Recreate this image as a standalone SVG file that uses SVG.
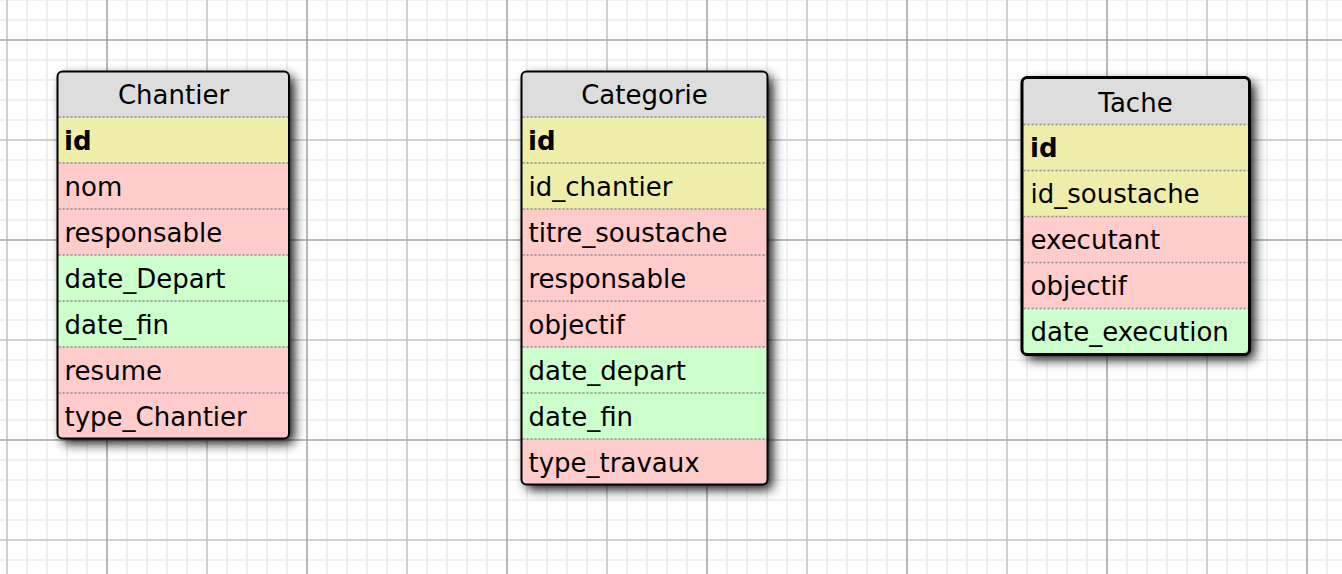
<svg xmlns="http://www.w3.org/2000/svg" width="1342" height="574" viewBox="0 0 1342 574">
  <style>
    .hdr { fill: #dddddd; }
    .num { fill: #eeeeaa; }
    .chr { fill: #ffcccc; }
    .dat { fill: #ccffcc; }
    .sep { stroke: #888888; stroke-width: 1.6; stroke-dasharray: 2 2; fill: none; }
    .frame { fill: none; stroke: #000000; stroke-width: 2; }
    .frame.sel { stroke-width: 3; }
    text { font-family: "DejaVu Sans", "Liberation Sans", sans-serif; font-size: 26px; fill: #000000; }
    .title { text-anchor: middle; }
    .pk { font-weight: bold; }
  </style>
  <defs>
    <pattern id="minor" patternUnits="userSpaceOnUse" x="-3" y="-10" width="20" height="20">
      <path d="M10 0V20M0 10H20" stroke="#ececec" stroke-width="1.6" fill="none"/>
    </pattern>
    <pattern id="major" patternUnits="userSpaceOnUse" x="57" y="-10" width="200" height="200">
      <path d="M150 0V200M0 150H200" stroke="#c8c8c8" stroke-width="1.6" fill="none"/>
      <path d="M50 0V200M0 50H200" stroke="#aaaaaa" stroke-width="1.6" fill="none"/>
    </pattern>
    <filter id="shadow" x="-30%" y="-30%" width="160%" height="160%">
      <feGaussianBlur in="SourceAlpha" stdDeviation="6"/>
      <feOffset dx="5" dy="5" result="b"/>
      <feComponentTransfer in="b" result="s"><feFuncA type="linear" slope="0.95"/></feComponentTransfer>
      <feMerge><feMergeNode in="s"/><feMergeNode in="SourceGraphic"/></feMerge>
    </filter>
    <clipPath id="clipChantier"><rect x="57.5" y="71.5" width="231.5" height="367" rx="5"/></clipPath>
    <clipPath id="clipCategorie"><rect x="521.5" y="71.5" width="246" height="413" rx="5"/></clipPath>
    <clipPath id="clipTache"><rect x="1022" y="77.5" width="227.5" height="277" rx="5"/></clipPath>
  </defs>

  <rect x="0" y="0" width="1342" height="574" fill="#ffffff"/>
  <rect x="0" y="0" width="1342" height="574" fill="url(#minor)"/>
  <rect x="0" y="0" width="1342" height="574" fill="url(#major)"/>

  <g id="connectors"></g>

  <g id="table-Chantier">
    <rect x="57.5" y="71.5" width="231.5" height="367" rx="5" fill="#ffffff" filter="url(#shadow)"/>
    <g clip-path="url(#clipChantier)">
      <rect class="hdr" x="56" y="70" width="235" height="47"/>
      <rect class="num" x="56" y="117" width="235" height="46"/>
      <rect class="chr" x="56" y="163" width="235" height="46"/>
      <rect class="chr" x="56" y="209" width="235" height="46"/>
      <rect class="dat" x="56" y="255" width="235" height="46"/>
      <rect class="dat" x="56" y="301" width="235" height="46"/>
      <rect class="chr" x="56" y="347" width="235" height="46"/>
      <rect class="chr" x="56" y="393" width="235" height="47"/>
    </g>
    <path class="sep" d="M58.5 117H288M58.5 163H288M58.5 209H288M58.5 255H288M58.5 301H288M58.5 347H288M58.5 393H288"/>
    <rect class="frame" x="57.5" y="71.5" width="231.5" height="367" rx="5"/>
    <text class="title" x="173.5" y="104">Chantier</text>
    <text class="pk" x="64" y="149.5">id</text>
    <text x="64.5" y="195.5">nom</text>
    <text x="64.5" y="241.5">responsable</text>
    <text x="64.5" y="287.5">date_Depart</text>
    <text x="64.5" y="333.5">date_fin</text>
    <text x="64.5" y="379.5">resume</text>
    <text x="64.5" y="425.5">type_Chantier</text>
  </g>

  <g id="table-Categorie">
    <rect x="521.5" y="71.5" width="246" height="413" rx="5" fill="#ffffff" filter="url(#shadow)"/>
    <g clip-path="url(#clipCategorie)">
      <rect class="hdr" x="520" y="70" width="250" height="47"/>
      <rect class="num" x="520" y="117" width="250" height="46"/>
      <rect class="num" x="520" y="163" width="250" height="46"/>
      <rect class="chr" x="520" y="209" width="250" height="46"/>
      <rect class="chr" x="520" y="255" width="250" height="46"/>
      <rect class="chr" x="520" y="301" width="250" height="46"/>
      <rect class="dat" x="520" y="347" width="250" height="46"/>
      <rect class="dat" x="520" y="393" width="250" height="46"/>
      <rect class="chr" x="520" y="439" width="250" height="47"/>
    </g>
    <path class="sep" d="M522.5 117H767M522.5 163H767M522.5 209H767M522.5 255H767M522.5 301H767M522.5 347H767M522.5 393H767M522.5 439H767"/>
    <rect class="frame" x="521.5" y="71.5" width="246" height="413" rx="5"/>
    <text class="title" x="644.5" y="104">Categorie</text>
    <text class="pk" x="528" y="149.5">id</text>
    <text x="528.5" y="195.5">id_chantier</text>
    <text x="528.5" y="241.5">titre_soustache</text>
    <text x="528.5" y="287.5">responsable</text>
    <text x="528.5" y="333.5">objectif</text>
    <text x="528.5" y="379.5">date_depart</text>
    <text x="528.5" y="425.5">date_fin</text>
    <text x="528.5" y="471.5">type_travaux</text>
  </g>

  <g id="table-Tache">
    <rect x="1022" y="77.5" width="227.5" height="277" rx="5" fill="#ffffff" filter="url(#shadow)"/>
    <g clip-path="url(#clipTache)">
      <rect class="hdr" x="1020" y="76" width="232" height="48.5"/>
      <rect class="num" x="1020" y="124.5" width="232" height="46"/>
      <rect class="num" x="1020" y="170.5" width="232" height="46"/>
      <rect class="chr" x="1020" y="216.5" width="232" height="46"/>
      <rect class="chr" x="1020" y="262.5" width="232" height="46"/>
      <rect class="dat" x="1020" y="308.5" width="232" height="48"/>
    </g>
    <path class="sep" d="M1023.5 124.5H1248M1023.5 170.5H1248M1023.5 216.5H1248M1023.5 262.5H1248M1023.5 308.5H1248"/>
    <rect class="frame sel" x="1022" y="77.5" width="227.5" height="277" rx="5"/>
    <text class="title" x="1135.5" y="111.5">Tache</text>
    <text class="pk" x="1030" y="157">id</text>
    <text x="1030.5" y="203">id_soustache</text>
    <text x="1030.5" y="249">executant</text>
    <text x="1030.5" y="295">objectif</text>
    <text x="1030.5" y="341">date_execution</text>
  </g>
</svg>
